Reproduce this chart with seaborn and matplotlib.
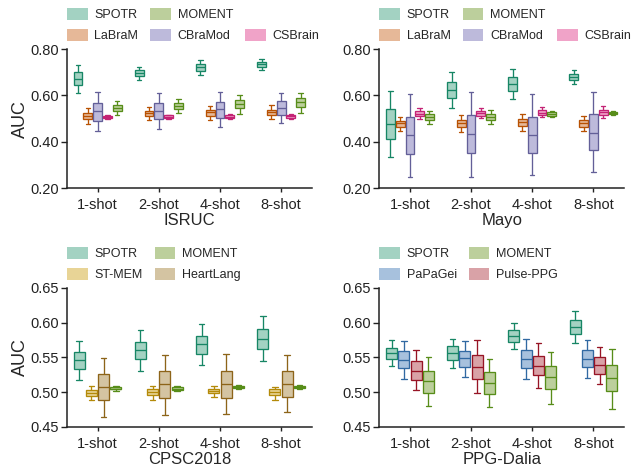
import numpy as np
import pandas as pd
import matplotlib
matplotlib.use("Agg")
import matplotlib.pyplot as plt
import seaborn as sns
from matplotlib.patches import Patch
from matplotlib.colors import to_rgb

shots = ["1-shot", "2-shot", "4-shot", "8-shot"]

# each box: [whisker low, q1, median, q3, whisker high], one per shot
isruc_spotr = [[0.609, 0.644, 0.671, 0.700, 0.731], [0.665, 0.684, 0.698, 0.708, 0.724],
               [0.687, 0.707, 0.724, 0.735, 0.753], [0.711, 0.724, 0.737, 0.745, 0.758]]
isruc_labram = [[0.477, 0.497, 0.513, 0.524, 0.545], [0.494, 0.511, 0.526, 0.534, 0.552],
                [0.496, 0.513, 0.527, 0.536, 0.555], [0.497, 0.514, 0.529, 0.539, 0.557]]
isruc_cbramod = [[0.447, 0.491, 0.533, 0.569, 0.613], [0.456, 0.499, 0.534, 0.567, 0.611],
                 [0.463, 0.504, 0.540, 0.570, 0.613], [0.480, 0.514, 0.547, 0.576, 0.611]]
isruc_csbrain = [[0.497, 0.501, 0.507, 0.513, 0.517], [0.499, 0.503, 0.509, 0.514, 0.517],
                 [0.499, 0.503, 0.509, 0.514, 0.518], [0.500, 0.504, 0.510, 0.516, 0.519]]
isruc_moment = [[0.517, 0.534, 0.547, 0.557, 0.578], [0.523, 0.542, 0.556, 0.567, 0.583],
                [0.519, 0.545, 0.563, 0.580, 0.603], [0.526, 0.549, 0.570, 0.590, 0.612]]

mayo_spotr = [[0.336, 0.414, 0.476, 0.540, 0.619], [0.545, 0.589, 0.623, 0.658, 0.702],
              [0.585, 0.621, 0.651, 0.679, 0.714], [0.651, 0.668, 0.681, 0.692, 0.708]]
mayo_labram = [[0.447, 0.464, 0.480, 0.491, 0.509], [0.441, 0.463, 0.480, 0.493, 0.514],
               [0.447, 0.467, 0.486, 0.499, 0.519], [0.448, 0.466, 0.480, 0.493, 0.510]]
mayo_cbramod = [[0.247, 0.346, 0.428, 0.509, 0.608], [0.250, 0.351, 0.433, 0.514, 0.615],
                [0.255, 0.351, 0.431, 0.509, 0.605], [0.269, 0.364, 0.440, 0.519, 0.613]]
mayo_csbrain = [[0.499, 0.510, 0.522, 0.532, 0.545], [0.504, 0.513, 0.523, 0.533, 0.545],
                [0.507, 0.516, 0.526, 0.536, 0.549], [0.503, 0.516, 0.527, 0.537, 0.553]]
mayo_moment = [[0.478, 0.494, 0.507, 0.519, 0.534], [0.477, 0.494, 0.509, 0.520, 0.537],
               [0.506, 0.513, 0.520, 0.527, 0.534], [0.514, 0.519, 0.523, 0.527, 0.532]]

cpsc_spotr = [[0.518, 0.533, 0.546, 0.558, 0.573], [0.530, 0.547, 0.560, 0.572, 0.589],
              [0.539, 0.555, 0.569, 0.581, 0.598], [0.544, 0.562, 0.576, 0.591, 0.609]]
cpsc_stmem = [[0.489, 0.495, 0.499, 0.503, 0.509], [0.489, 0.496, 0.500, 0.504, 0.509],
              [0.493, 0.498, 0.501, 0.505, 0.509], [0.489, 0.496, 0.500, 0.504, 0.508]]
cpsc_heartlang = [[0.464, 0.489, 0.507, 0.526, 0.549], [0.467, 0.491, 0.511, 0.530, 0.554],
                  [0.468, 0.492, 0.512, 0.531, 0.555], [0.471, 0.493, 0.512, 0.531, 0.554]]
cpsc_moment = [[0.502, 0.504, 0.505, 0.507, 0.509], [0.501, 0.503, 0.505, 0.507, 0.509],
               [0.505, 0.506, 0.507, 0.509, 0.510], [0.505, 0.506, 0.507, 0.509, 0.510]]

ppg_spotr = [[0.537, 0.547, 0.556, 0.564, 0.575], [0.534, 0.546, 0.556, 0.566, 0.577],
             [0.562, 0.572, 0.580, 0.589, 0.600], [0.570, 0.584, 0.594, 0.603, 0.616]]
ppg_papagei = [[0.519, 0.534, 0.546, 0.559, 0.573], [0.521, 0.536, 0.549, 0.559, 0.574],
               [0.519, 0.534, 0.548, 0.560, 0.576], [0.520, 0.536, 0.548, 0.560, 0.575]]
ppg_pulse = [[0.503, 0.518, 0.531, 0.545, 0.560], [0.498, 0.519, 0.536, 0.553, 0.575],
             [0.506, 0.524, 0.538, 0.552, 0.570], [0.511, 0.526, 0.539, 0.550, 0.565]]
ppg_moment = [[0.480, 0.499, 0.516, 0.531, 0.550], [0.478, 0.497, 0.513, 0.529, 0.547],
              [0.483, 0.504, 0.521, 0.538, 0.558], [0.476, 0.501, 0.520, 0.539, 0.562]]

# outline colours (darkened) and pale box fills
base = {"SPOTR": "#1b9e77", "LaBraM": "#d95f02", "CBraMod": "#7570b3",
        "CSBrain": "#e7298a", "MOMENT": "#66a61e", "ST-MEM": "#d4a20a",
        "HeartLang": "#a6761d", "PaPaGei": "#3a7bbf", "Pulse-PPG": "#b2182b"}
fills = {"SPOTR": "#a3d2c2", "LaBraM": "#e6b898", "CBraMod": "#bdbadb",
         "CSBrain": "#f0a3c8", "MOMENT": "#bccf9c", "ST-MEM": "#e8d496",
         "HeartLang": "#d4c4a2", "PaPaGei": "#a7c1dd", "Pulse-PPG": "#d9a2a7"}


def dark(c, f=0.85):
    return tuple(np.array(to_rgb(c)) * f)


def to_long(series):
    rows = []
    for model, boxes in series.items():
        for shot, vals in zip(shots, boxes):
            for v in vals:
                rows.append({"shot": shot, "model": model, "auc": v})
    return pd.DataFrame(rows)


def draw(ax, series, leg_order, ncol, ylim, yticks, xlabel, ylabel):
    df = to_long(series)
    models = list(series.keys())
    pal = {k: fills[k] for k in models}
    for m in models:
        # one call per model so each gets its own darker outline
        sns.boxplot(data=df[df["model"] == m], x="shot", y="auc", hue="model",
                    order=shots, hue_order=models, palette=pal,
                    linecolor=dark(base[m]), linewidth=0.95, whis=(0, 100),
                    saturation=1, gap=0.1, width=0.8, dodge=True,
                    legend=False, ax=ax)
    ax.set_ylim(*ylim)
    ax.set_yticks(yticks)
    ax.set_yticklabels([f"{t:.2f}" for t in yticks])
    ax.set_xlim(-0.5, 3.5)
    ax.set_xlabel(xlabel, fontsize=12, labelpad=1)
    ax.set_ylabel(ylabel, fontsize=13, labelpad=1)
    ax.tick_params(axis="both", labelsize=10.5, colors="#222222", width=1)
    ax.tick_params(axis="x", length=3, pad=4)
    ax.tick_params(axis="y", length=4, pad=2)
    for s in ["left", "bottom"]:
        ax.spines[s].set_linewidth(1.1)
        ax.spines[s].set_color("#222222")
    sns.despine(ax=ax)

    handles, labels = [], []
    for name in leg_order:
        if name is None:
            handles.append(Patch(visible=False))
            labels.append("")
        else:
            handles.append(Patch(facecolor=fills[name], edgecolor="none"))
            labels.append(name)
    ax.legend(handles, labels, ncol=ncol, loc="lower left", bbox_to_anchor=(0.0, 1.05),
              frameon=False, fontsize=9, borderaxespad=0, borderpad=0,
              handlelength=1.65, handleheight=1.1, handletextpad=0.55,
              columnspacing=0.95, labelspacing=0.6)


sns.set_style("ticks")
plt.rcParams["font.family"] = ["Liberation Sans", "DejaVu Sans"]

fig = plt.figure(figsize=(6.44, 4.68), dpi=100)
ax1 = fig.add_axes([0.104, 0.598, 0.380, 0.297])
ax2 = fig.add_axes([0.589, 0.598, 0.380, 0.297])
ax3 = fig.add_axes([0.104, 0.088, 0.380, 0.297])
ax4 = fig.add_axes([0.589, 0.088, 0.380, 0.297])

eeg_ticks = [0.20, 0.40, 0.60, 0.80]
sig_ticks = [0.45, 0.50, 0.55, 0.60, 0.65]

draw(ax1, {"SPOTR": isruc_spotr, "LaBraM": isruc_labram, "CBraMod": isruc_cbramod,
           "CSBrain": isruc_csbrain, "MOMENT": isruc_moment},
     ["SPOTR", "LaBraM", "MOMENT", "CBraMod", None, "CSBrain"], 3,
     (0.20, 0.80), eeg_ticks, "ISRUC", "AUC")
draw(ax2, {"SPOTR": mayo_spotr, "LaBraM": mayo_labram, "CBraMod": mayo_cbramod,
           "CSBrain": mayo_csbrain, "MOMENT": mayo_moment},
     ["SPOTR", "LaBraM", "MOMENT", "CBraMod", None, "CSBrain"], 3,
     (0.20, 0.80), eeg_ticks, "Mayo", "")
draw(ax3, {"SPOTR": cpsc_spotr, "ST-MEM": cpsc_stmem, "HeartLang": cpsc_heartlang,
           "MOMENT": cpsc_moment},
     ["SPOTR", "ST-MEM", "MOMENT", "HeartLang"], 2,
     (0.45, 0.65), sig_ticks, "CPSC2018", "AUC")
draw(ax4, {"SPOTR": ppg_spotr, "PaPaGei": ppg_papagei, "Pulse-PPG": ppg_pulse,
           "MOMENT": ppg_moment},
     ["SPOTR", "PaPaGei", "MOMENT", "Pulse-PPG"], 2,
     (0.45, 0.65), sig_ticks, "PPG-Dalia", "")

fig.savefig("out.png", dpi=100)
